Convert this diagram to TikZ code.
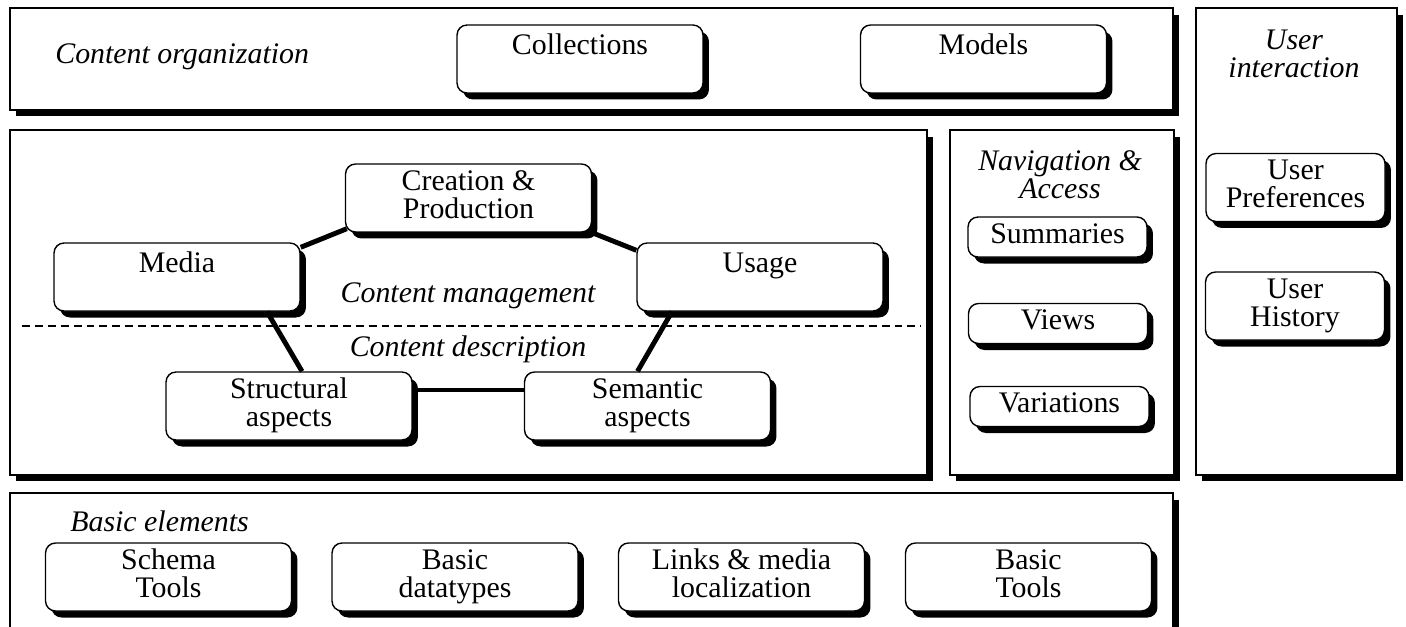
\documentclass[tikz,border=0pt]{standalone}
\usepackage{fontspec}
\setmainfont{Liberation Serif}
\usetikzlibrary{shapes,shadows,positioning,calc}

\begin{document}
\begin{tikzpicture}
	[x=0.02cm, y=-0.02cm,
	 every node/.style={font=\fontsize{17}{16}\selectfont},
	 panel/.style={rectangle, draw=black, fill=white, line width=0.8pt, drop shadow={shadow xshift=0.12cm, shadow yshift=-0.13cm, fill=black, opacity=1}},
	 bigbox/.style={rectangle, rounded corners=0.2cm, draw=black, fill=white, line width=0.8pt, align=center, minimum width=4.92cm, minimum height=1.36cm, inner sep=2pt, text depth=4pt, drop shadow={shadow xshift=0.12cm, shadow yshift=-0.13cm, fill=black, opacity=1}},
	 smallbox/.style={bigbox, minimum width=3.58cm, minimum height=0.8cm},
	 userbox/.style={bigbox, minimum width=3.58cm},
	 toptext/.style={text height=14.5pt, text depth=20pt},
	 paneltitle/.style={font=\fontsize{17}{16}\selectfont\itshape, align=center, inner sep=0pt},
	 link/.style={line width=2.8pt},
	 sepline/.style={line width=0.6pt, dash pattern=on 4.5pt off 2.8pt},
	]

	\useasboundingbox (0,0) rectangle (1406,626);

	% the large panels
	\node[panel, minimum width=23.26cm, minimum height=2.04cm] (orgpanel) at (591.5,59) {};
	\node[panel, minimum width=18.34cm, minimum height=6.9cm] (mgmtpanel) at (468.5,302.5) {};
	\node[panel, minimum width=4.48cm, minimum height=6.9cm] (navpanel) at (1062,302.5) {};
	\node[panel, minimum width=4.02cm, minimum height=9.34cm] (userpanel) at (1296.5,241.5) {};
	\node[panel, minimum width=23.26cm, minimum height=3.34cm] (basicpanel) at (591.5,576.5) {};

	\node[paneltitle, anchor=west] (orgtitle) at (55,57) {Content organization};
	\node[paneltitle] (usertitle) at (1294,54) {User\\interaction};
	\node[paneltitle] (navtitle) at (1060,175) {Navigation \&\\Access};
	\node[paneltitle] (mgmttitle) at (468,296) {Content management};
	\node[paneltitle] (desctitle) at (468,349) {Content description};
	\node[paneltitle, anchor=west] (basictitle) at (70,521) {Basic elements};

	\draw[sepline] ($(mgmtpanel.west)+(13,23.5)$) -- ($(mgmtpanel.east)+(-7,23.5)$);

	% content organization
	\node[bigbox, toptext] (collections) at (580,59) {Collections};
	\node[bigbox, toptext] (models) at (983.5,59) {Models};

	% content management / description
	\node[bigbox] (creation) at (468.5,198) {Creation \&\\Production};
	\node[bigbox, toptext] (media) at (177,277) {Media};
	\node[bigbox, toptext] (usage) at (760,277) {Usage};
	\node[bigbox] (structural) at (289,406) {Structural\\aspects};
	\node[bigbox] (semantic) at (647.5,406) {Semantic\\aspects};

	\draw[link] ($(media.north east)+(0,5)$) -- ($(creation.south west)+(2,-4)$);
	\draw[link] (creation.south east) -- ($(usage.north west)+(0,8)$);
	\draw[link] ($(media.south)+(90,0)$) -- ($(structural.north)+(13,0)$);
	\draw[link] ($(usage.south)+(-88,0)$) -- ($(semantic.north)+(-10,0)$);
	\draw[link] ($(structural.east)+(0,-16)$) -- ($(semantic.west)+(0,-16)$);

	% navigation and user
	\node[smallbox] (summaries) at (1057.5,237) {Summaries};
	\node[smallbox] (views) at (1058,323.5) {Views};
	\node[smallbox] (variations) at (1059.5,406.5) {Variations};
	\node[userbox] (preferences) at (1295.5,187.5) {User\\Preferences};
	\node[userbox] (history) at (1295,306) {User\\History};

	% basic elements
	\node[bigbox] (schema) at (168.5,577) {Schema\\Tools};
	\node[bigbox] (datatypes) at (455,577) {Basic\\datatypes};
	\node[bigbox] (links) at (741.5,577) {Links \& media\\localization};
	\node[bigbox] (basictools) at (1028.5,577) {Basic\\Tools};

\end{tikzpicture}
\end{document}
